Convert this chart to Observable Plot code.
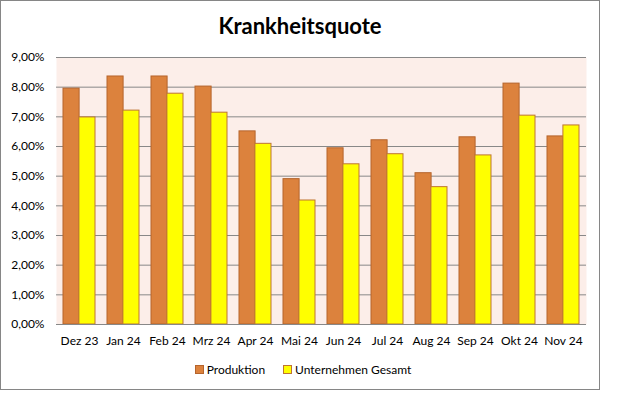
<!DOCTYPE html>
<html>
<head>
<meta charset="utf-8">
<script src="https://cdn.jsdelivr.net/npm/d3@7"></script>
<script src="https://cdn.jsdelivr.net/npm/@observablehq/plot@0.6"></script>
<style>
  html, body { margin: 0; padding: 0; background: #fff; }
  #box { position: absolute; left: 0; top: 0; width: 598px; height: 388px; border: 1px solid #868686; font-family: Lato, "Open Sans", sans-serif; }
  #title { position: absolute; left: 0; top: 12px; width: 598px; text-align: center; font-weight: bold; font-size: 22px; line-height: 26px; color: #000; }
  #chart { position: absolute; left: 0; top: 39px; }
  #legend { position: absolute; left: 0; top: 362px; width: 604px; text-align: center; font-size: 12px; line-height: 14px; color: #000; }
  .item { display: inline-block; margin: 0 9px; }
  .sw { display: inline-block; width: 7px; height: 7px; border: 1px solid; margin-right: 3px; vertical-align: 0px; }
</style>
</head>
<body>
<div id="box">
  <div id="title">Krankheitsquote</div>
  <div id="chart"></div>
  <div id="legend"></div>
</div>
<script>
const months = ["Dez 23", "Jan 24", "Feb 24", "Mrz 24", "Apr 24", "Mai 24", "Jun 24", "Jul 24", "Aug 24", "Sep 24", "Okt 24", "Nov 24"];
const produktion = [7.95, 8.36, 8.36, 8.02, 6.51, 4.90, 5.94, 6.21, 5.10, 6.31, 8.12, 6.34];
const gesamt = [6.98, 7.21, 7.78, 7.14, 6.09, 4.18, 5.40, 5.74, 4.63, 5.70, 7.04, 6.71];
const yTicks = [0, 1, 2, 3, 4, 5, 6, 7, 8, 9];
const seriesNames = ["Produktion", "Unternehmen Gesamt"];
const seriesFill = ["#DC823D", "#FFFF00"];
const seriesStroke = ["#B5642C", "#BE7434"];

const W = 598, H = 310, ML = 55, MR = 13, MT = 17, MB = 26;
const padInner = 0.28, padOuter = 0.14;
const step = (W - ML - MR) / (months.length - padInner + 2 * padOuter);
const half = step * (1 - padInner) / 2;

const dataP = months.map((m, i) => ({month: m, value: produktion[i]}));
const dataG = months.map((m, i) => ({month: m, value: gesamt[i]}));

const chart = Plot.plot({
  width: W, height: H,
  marginLeft: ML, marginRight: MR, marginTop: MT, marginBottom: MB,
  style: {fontFamily: "Lato, 'Open Sans', sans-serif", fontSize: "12px", color: "#000", background: "transparent"},
  x: {domain: months, paddingInner: padInner, paddingOuter: padOuter, label: null},
  y: {domain: [0, 9], label: null},
  marks: [
    Plot.frame({fill: "#FCEEE9", stroke: null}),
    Plot.ruleY(yTicks, {stroke: "#888888", strokeWidth: 1}),
    Plot.barY(dataP, {x: "month", y: "value", fill: seriesFill[0], stroke: seriesStroke[0], strokeWidth: 1, insetRight: half}),
    Plot.barY(dataG, {x: "month", y: "value", fill: seriesFill[1], stroke: seriesStroke[1], strokeWidth: 1, insetLeft: half}),
    Plot.ruleY([0], {stroke: "#888888", strokeWidth: 1}),
    Plot.axisY(yTicks, {tickSize: 0, tickPadding: 12, tickFormat: d => d.toFixed(2).replace(".", ",") + "%", label: null, fill: "#000"}),
    Plot.axisX({tickSize: 0, tickPadding: 12, label: null, fill: "#000"})
  ]
});
document.getElementById("chart").appendChild(chart);

const legend = document.getElementById("legend");
seriesNames.forEach((name, i) => {
  const item = document.createElement("span");
  item.className = "item";
  const sw = document.createElement("span");
  sw.className = "sw";
  sw.style.background = seriesFill[i];
  sw.style.borderColor = seriesStroke[i];
  item.appendChild(sw);
  item.appendChild(document.createTextNode(name));
  legend.appendChild(item);
});
</script>
</body>
</html>
